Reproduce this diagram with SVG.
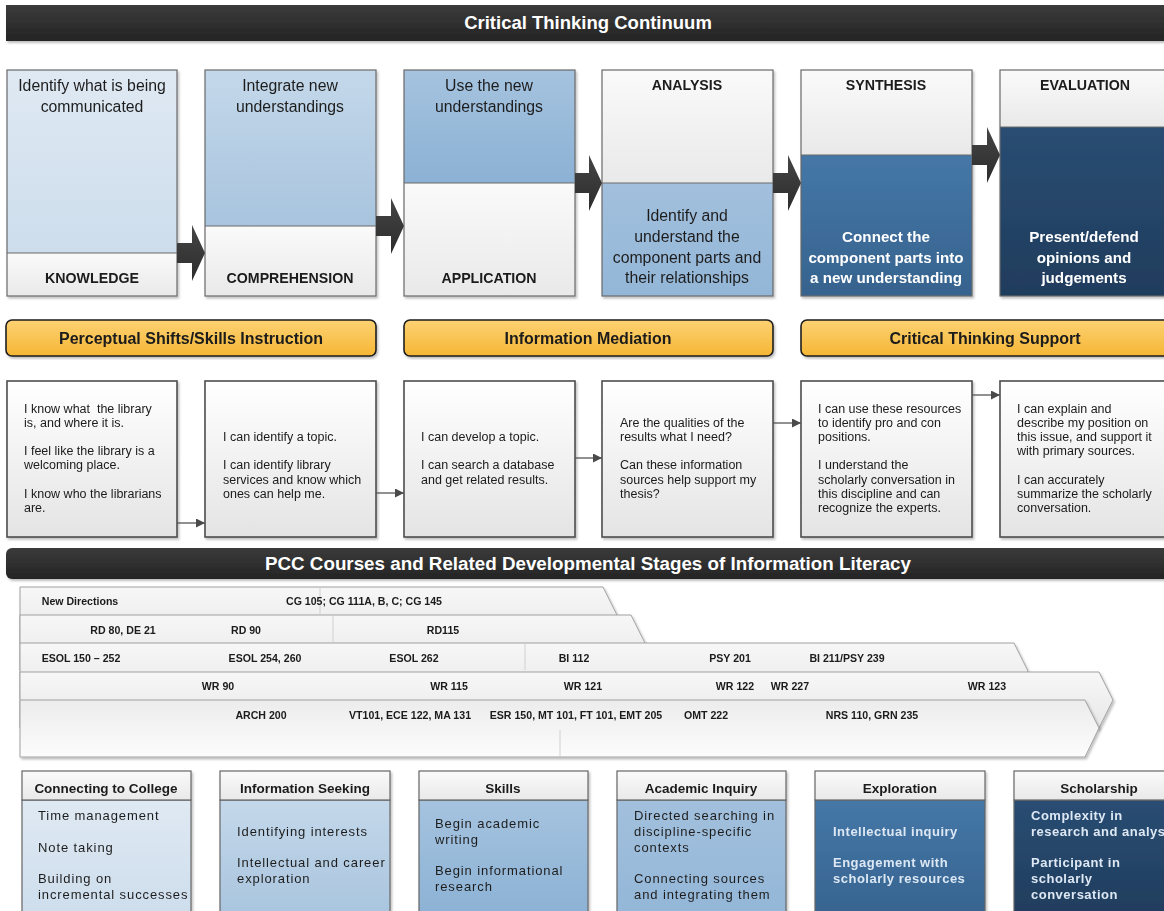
<svg xmlns="http://www.w3.org/2000/svg" width="1164" height="911" viewBox="0 0 1164 911">
  <defs>
    <linearGradient id="gTitle" x1="0" y1="0" x2="0" y2="1">
      <stop offset="0" stop-color="#3b3b3b"/>
      <stop offset="1" stop-color="#242424"/>
    </linearGradient>
    <linearGradient id="gGrey" x1="0" y1="0" x2="0" y2="1">
      <stop offset="0" stop-color="#fafafa"/>
      <stop offset="1" stop-color="#e9e9e9"/>
    </linearGradient>
    <linearGradient id="gB1" x1="0" y1="0" x2="0" y2="1">
      <stop offset="0" stop-color="#dfe9f3"/>
      <stop offset="1" stop-color="#cdddec"/>
    </linearGradient>
    <linearGradient id="gB2" x1="0" y1="0" x2="0" y2="1">
      <stop offset="0" stop-color="#c4d8ea"/>
      <stop offset="1" stop-color="#a8c4de"/>
    </linearGradient>
    <linearGradient id="gB3" x1="0" y1="0" x2="0" y2="1">
      <stop offset="0" stop-color="#a5c3df"/>
      <stop offset="1" stop-color="#8bb1d4"/>
    </linearGradient>
    <linearGradient id="gB4" x1="0" y1="0" x2="0" y2="1">
      <stop offset="0" stop-color="#a2c0dd"/>
      <stop offset="1" stop-color="#93b6d7"/>
    </linearGradient>
    <linearGradient id="gB5" x1="0" y1="0" x2="0" y2="1">
      <stop offset="0" stop-color="#4577a7"/>
      <stop offset="1" stop-color="#36638e"/>
    </linearGradient>
    <linearGradient id="gB6" x1="0" y1="0" x2="0" y2="1">
      <stop offset="0" stop-color="#2a4d73"/>
      <stop offset="1" stop-color="#1f3c5c"/>
    </linearGradient>
    <linearGradient id="gYellow" x1="0" y1="0" x2="0" y2="1">
      <stop offset="0" stop-color="#fdd273"/>
      <stop offset="1" stop-color="#f5b635"/>
    </linearGradient>
    <linearGradient id="gStmt" x1="0" y1="0" x2="0" y2="1">
      <stop offset="0" stop-color="#ffffff"/>
      <stop offset="1" stop-color="#e4e4e4"/>
    </linearGradient>
    <linearGradient id="gRow" x1="0" y1="0" x2="0" y2="1">
      <stop offset="0" stop-color="#f7f7f7"/>
      <stop offset="1" stop-color="#e8e8e8"/>
    </linearGradient>
    <linearGradient id="gRow5" x1="0" y1="0" x2="0" y2="1">
      <stop offset="0" stop-color="#ececec"/>
      <stop offset="1" stop-color="#fcfcfc"/>
    </linearGradient>
    <linearGradient id="gArrow" x1="0" y1="0" x2="0" y2="1">
      <stop offset="0" stop-color="#454545"/>
      <stop offset="1" stop-color="#2c2c2c"/>
    </linearGradient>
    <filter id="shadow" x="-5%" y="-5%" width="115%" height="115%">
      <feDropShadow dx="1.5" dy="2" stdDeviation="1.2" flood-color="#000" flood-opacity="0.25"/>
    </filter>
    <marker id="tip" viewBox="0 0 10 10" refX="10" refY="5" markerWidth="9" markerHeight="9" markerUnits="userSpaceOnUse" orient="auto">
      <path d="M0,0 L10,5 L0,10 z" fill="#4a4a4a"/>
    </marker>
    <style>
      text { font-family: "Liberation Sans", Arial, sans-serif; }
      .title { fill: #ffffff; font-weight: bold; font-size: 18.5px; text-anchor: middle; }
      .title2 { fill: #ffffff; font-weight: bold; font-size: 18.8px; text-anchor: middle; }
      .frame { fill: none; stroke: #6a6a6a; stroke-width: 1.2; }
      .split { stroke: #6a6a6a; stroke-width: 1.2; }
      .desc { font-size: 15.8px; fill: #1e1e1e; text-anchor: middle; }
      .descW { font-size: 15.2px; fill: #ffffff; font-weight: bold; text-anchor: middle; }
      .stage { font-size: 14.2px; font-weight: bold; fill: #1a1a1a; text-anchor: middle; }
      .band { fill: url(#gYellow); stroke: #1e1e1e; stroke-width: 1.6; }
      .bandTxt { font-size: 16px; font-weight: bold; fill: #1a1a1a; text-anchor: middle; }
      .stmt { fill: url(#gStmt); stroke: #4e4e4e; stroke-width: 1.6; }
      .stmtTxt { font-size: 12.5px; fill: #1a1a1a; }
      .link { fill: none; stroke: #555555; stroke-width: 1.3; marker-end: url(#tip); }
      .block { fill: url(#gArrow); }
      .row { stroke: #a0a0a0; stroke-width: 1; }
      .div { stroke: #d0d0d0; stroke-width: 1; }
      .course { font-size: 10.6px; font-weight: bold; fill: #1a1a1a; text-anchor: middle; }
      .head { fill: url(#gGrey); stroke: #666666; stroke-width: 1.2; }
      .headTxt { font-size: 13.5px; font-weight: bold; fill: #1a1a1a; text-anchor: middle; }
      .body { stroke: #666666; stroke-width: 1.2; }
      .bodyTxt { font-size: 13px; fill: #1e1e1e; letter-spacing: 0.9px; }
      .bodyTxtW { font-size: 13px; fill: #dde8f4; font-weight: bold; letter-spacing: 0.5px; }
    </style>
  </defs>

  <rect width="1164" height="911" fill="#ffffff"/>

  <!-- Heading bar -->
  <g id="heading">
    <rect x="6" y="5" width="1170" height="36" fill="url(#gTitle)" filter="url(#shadow)"/>
    <text class="title" x="588" y="29">Critical Thinking Continuum</text>
  </g>

  <!-- Continuum stages -->
  <g id="stage-knowledge" filter="url(#shadow)">
    <rect x="7" y="70" width="170" height="183" fill="url(#gB1)"/>
    <rect x="7" y="253" width="170" height="43" fill="url(#gGrey)"/>
    <line class="split" x1="7" y1="253" x2="177" y2="253"/>
    <rect class="frame" x="7" y="70" width="170" height="226"/>
    <text class="desc" x="92" y="91">Identify what is being</text>
    <text class="desc" x="92" y="112">communicated</text>
    <text class="stage" x="92" y="283">KNOWLEDGE</text>
  </g>
  <g id="stage-comprehension" filter="url(#shadow)">
    <rect x="205" y="70" width="171" height="156" fill="url(#gB2)"/>
    <rect x="205" y="226" width="171" height="70" fill="url(#gGrey)"/>
    <line class="split" x1="205" y1="226" x2="376" y2="226"/>
    <rect class="frame" x="205" y="70" width="171" height="226"/>
    <text class="desc" x="290" y="91">Integrate new</text>
    <text class="desc" x="290" y="112">understandings</text>
    <text class="stage" x="290" y="283">COMPREHENSION</text>
  </g>
  <g id="stage-application" filter="url(#shadow)">
    <rect x="404" y="70" width="171" height="113" fill="url(#gB3)"/>
    <rect x="404" y="183" width="171" height="113" fill="url(#gGrey)"/>
    <line class="split" x1="404" y1="183" x2="575" y2="183"/>
    <rect class="frame" x="404" y="70" width="171" height="226"/>
    <text class="desc" x="489" y="91">Use the new</text>
    <text class="desc" x="489" y="112">understandings</text>
    <text class="stage" x="489" y="283">APPLICATION</text>
  </g>
  <g id="stage-analysis" filter="url(#shadow)">
    <rect x="602" y="70" width="171" height="113" fill="url(#gGrey)"/>
    <rect x="602" y="183" width="171" height="113" fill="url(#gB4)"/>
    <line class="split" x1="602" y1="183" x2="773" y2="183"/>
    <rect class="frame" x="602" y="70" width="171" height="226"/>
    <text class="stage" x="687" y="90">ANALYSIS</text>
    <text class="desc" x="687" y="221">Identify and</text>
    <text class="desc" x="687" y="242">understand the</text>
    <text class="desc" x="687" y="263">component parts and</text>
    <text class="desc" x="687" y="283">their relationships</text>
  </g>
  <g id="stage-synthesis" filter="url(#shadow)">
    <rect x="801" y="70" width="171" height="85" fill="url(#gGrey)"/>
    <rect x="801" y="155" width="171" height="141" fill="url(#gB5)"/>
    <line class="split" x1="801" y1="155" x2="972" y2="155"/>
    <rect class="frame" x="801" y="70" width="171" height="226"/>
    <text class="stage" x="886" y="90">SYNTHESIS</text>
    <text class="descW" x="886" y="242">Connect the</text>
    <text class="descW" x="886" y="263">component parts into</text>
    <text class="descW" x="886" y="283">a new understanding</text>
  </g>
  <g id="stage-evaluation" filter="url(#shadow)">
    <rect x="1000" y="70" width="171" height="57" fill="url(#gGrey)"/>
    <rect x="1000" y="127" width="171" height="169" fill="url(#gB6)"/>
    <line class="split" x1="1000" y1="127" x2="1171" y2="127"/>
    <rect class="frame" x="1000" y="70" width="171" height="226"/>
    <text class="stage" x="1085" y="90">EVALUATION</text>
    <text class="descW" x="1084" y="242">Present/defend</text>
    <text class="descW" x="1084" y="263">opinions and</text>
    <text class="descW" x="1084" y="283">judgements</text>
  </g>

  <!-- Support bands -->
  <g id="band-perceptual" filter="url(#shadow)">
    <rect class="band" x="6" y="320" width="370" height="36" rx="6"/>
    <text class="bandTxt" x="191" y="344">Perceptual Shifts/Skills Instruction</text>
  </g>
  <g id="band-mediation" filter="url(#shadow)">
    <rect class="band" x="404" y="320" width="369" height="36" rx="6"/>
    <text class="bandTxt" x="588" y="344">Information Mediation</text>
  </g>
  <g id="band-support" filter="url(#shadow)">
    <rect class="band" x="801" y="320" width="375" height="36" rx="6"/>
    <text class="bandTxt" x="985" y="344">Critical Thinking Support</text>
  </g>

  <!-- Student statements -->
  <g id="stmt-1" filter="url(#shadow)">
    <rect class="stmt" x="7" y="381" width="170" height="156"/>
    <text class="stmtTxt" x="24" y="413" xml:space="preserve">I know what  the library</text>
    <text class="stmtTxt" x="24" y="427">is, and where it is.</text>
    <text class="stmtTxt" x="24" y="455">I feel like the library is a</text>
    <text class="stmtTxt" x="24" y="469">welcoming place.</text>
    <text class="stmtTxt" x="24" y="498">I know who the librarians</text>
    <text class="stmtTxt" x="24" y="512">are.</text>
  </g>
  <g id="stmt-2" filter="url(#shadow)">
    <rect class="stmt" x="205" y="381" width="171" height="156"/>
    <text class="stmtTxt" x="223" y="441">I can identify a topic.</text>
    <text class="stmtTxt" x="223" y="469">I can identify library</text>
    <text class="stmtTxt" x="223" y="484">services and know which</text>
    <text class="stmtTxt" x="223" y="498">ones can help me.</text>
  </g>
  <g id="stmt-3" filter="url(#shadow)">
    <rect class="stmt" x="404" y="381" width="171" height="156"/>
    <text class="stmtTxt" x="421" y="441">I can develop a topic.</text>
    <text class="stmtTxt" x="421" y="469">I can search a database</text>
    <text class="stmtTxt" x="421" y="484">and get related results.</text>
  </g>
  <g id="stmt-4" filter="url(#shadow)">
    <rect class="stmt" x="602" y="381" width="171" height="156"/>
    <text class="stmtTxt" x="620" y="427">Are the qualities of the</text>
    <text class="stmtTxt" x="620" y="441">results what I need?</text>
    <text class="stmtTxt" x="620" y="469">Can these information</text>
    <text class="stmtTxt" x="620" y="484">sources help support my</text>
    <text class="stmtTxt" x="620" y="498">thesis?</text>
  </g>
  <g id="stmt-5" filter="url(#shadow)">
    <rect class="stmt" x="801" y="381" width="171" height="156"/>
    <text class="stmtTxt" x="818" y="413">I can use these resources</text>
    <text class="stmtTxt" x="818" y="427">to identify pro and con</text>
    <text class="stmtTxt" x="818" y="441">positions.</text>
    <text class="stmtTxt" x="818" y="469">I understand the</text>
    <text class="stmtTxt" x="818" y="484">scholarly conversation in</text>
    <text class="stmtTxt" x="818" y="498">this discipline and can</text>
    <text class="stmtTxt" x="818" y="512">recognize the experts.</text>
  </g>
  <g id="stmt-6" filter="url(#shadow)">
    <rect class="stmt" x="1000" y="381" width="171" height="156"/>
    <text class="stmtTxt" x="1017" y="413">I can explain and</text>
    <text class="stmtTxt" x="1017" y="427">describe my position on</text>
    <text class="stmtTxt" x="1017" y="441">this issue, and support it</text>
    <text class="stmtTxt" x="1017" y="455">with primary sources.</text>
    <text class="stmtTxt" x="1017" y="484">I can accurately</text>
    <text class="stmtTxt" x="1017" y="498">summarize the scholarly</text>
    <text class="stmtTxt" x="1017" y="512">conversation.</text>
  </g>

  <!-- Connectors: block arrows between stages, thin arrows between statements -->
  <g id="connectors">
    <polygon class="block" points="177,243 192,243 192,225 205,253 192,281 192,263 177,263"/>
    <polygon class="block" points="376,216 391,216 391,198 404,226 391,254 391,236 376,236"/>
    <polygon class="block" points="575,173 589,173 589,155 602,183 589,211 589,193 575,193"/>
    <polygon class="block" points="773,173 788,173 788,155 801,183 788,211 788,193 773,193"/>
    <polygon class="block" points="972,145 987,145 987,127 1000,155 987,183 987,165 972,165"/>
    <line class="link" x1="177" y1="523" x2="205" y2="523"/>
    <line class="link" x1="376" y1="493" x2="404" y2="493"/>
    <line class="link" x1="575" y1="458" x2="602" y2="458"/>
    <line class="link" x1="773" y1="423" x2="801" y2="423"/>
    <line class="link" x1="972" y1="395" x2="1000" y2="395"/>
  </g>

  <!-- Course section heading -->
  <g id="courses-heading">
    <rect x="6" y="548" width="1170" height="31" rx="6" fill="url(#gTitle)" filter="url(#shadow)"/>
    <text class="title2" x="588" y="570">PCC Courses and Related Developmental Stages of Information Literacy</text>
  </g>

  <!-- Course bands (each drawn over the one above it) -->
  <g id="course-row-1" filter="url(#shadow)">
    <polygon class="row" fill="url(#gRow)" points="20,587 603,587 617,615 603,643 20,643"/>
    <line class="div" x1="320" y1="588" x2="320" y2="614"/>
    <text class="course" x="80" y="605">New Directions</text>
    <text class="course" x="364" y="605">CG 105; CG 111A, B, C; CG 145</text>
  </g>
  <g id="course-row-2" filter="url(#shadow)">
    <polygon class="row" fill="url(#gRow)" points="20,615 631,615 645,643 631,671 20,671"/>
    <line class="div" x1="333" y1="616" x2="333" y2="642"/>
    <text class="course" x="123" y="634">RD 80, DE 21</text>
    <text class="course" x="246" y="634">RD 90</text>
    <text class="course" x="443" y="634">RD115</text>
  </g>
  <g id="course-row-3" filter="url(#shadow)">
    <polygon class="row" fill="url(#gRow)" points="20,643 1014,643 1028,671 1014,699 20,699"/>
    <line class="div" x1="525" y1="644" x2="525" y2="670"/>
    <text class="course" x="81" y="662">ESOL 150 – 252</text>
    <text class="course" x="265" y="662">ESOL 254, 260</text>
    <text class="course" x="414" y="662">ESOL 262</text>
    <text class="course" x="574" y="662">BI 112</text>
    <text class="course" x="730" y="662">PSY 201</text>
    <text class="course" x="847" y="662">BI 211/PSY 239</text>
  </g>
  <g id="course-row-4" filter="url(#shadow)">
    <polygon class="row" fill="url(#gRow)" points="20,672 1099,672 1113,700 1099,728 20,728"/>
    <text class="course" x="218" y="690">WR 90</text>
    <text class="course" x="449" y="690">WR 115</text>
    <text class="course" x="583" y="690">WR 121</text>
    <text class="course" x="735" y="690">WR 122</text>
    <text class="course" x="790" y="690">WR 227</text>
    <text class="course" x="987" y="690">WR 123</text>
  </g>
  <g id="course-row-5" filter="url(#shadow)">
    <polygon class="row" fill="url(#gRow5)" points="20,700 1085,700 1099,728 1085,757 20,757"/>
    <line class="div" x1="560" y1="730" x2="560" y2="756"/>
    <text class="course" x="261" y="719">ARCH 200</text>
    <text class="course" x="410" y="719">VT101, ECE 122, MA 131</text>
    <text class="course" x="576" y="719">ESR 150, MT 101, FT 101, EMT 205</text>
    <text class="course" x="706" y="719">OMT 222</text>
    <text class="course" x="872" y="719">NRS 110, GRN 235</text>
  </g>

  <!-- Developmental stages -->
  <g id="dev-connecting" filter="url(#shadow)">
    <rect class="body" x="22" y="800" width="169" height="120" fill="url(#gB1)"/>
    <rect class="head" x="22" y="771" width="169" height="29"/>
    <text class="headTxt" x="106" y="793">Connecting to College</text>
    <text class="bodyTxt" x="38" y="820">Time management</text>
    <text class="bodyTxt" x="38" y="852">Note taking</text>
    <text class="bodyTxt" x="38" y="883">Building on</text>
    <text class="bodyTxt" x="38" y="899">incremental successes</text>
  </g>
  <g id="dev-seeking" filter="url(#shadow)">
    <rect class="body" x="220" y="800" width="170" height="120" fill="url(#gB2)"/>
    <rect class="head" x="220" y="771" width="170" height="29"/>
    <text class="headTxt" x="305" y="793">Information Seeking</text>
    <text class="bodyTxt" x="237" y="836">Identifying interests</text>
    <text class="bodyTxt" x="237" y="867">Intellectual and career</text>
    <text class="bodyTxt" x="237" y="883">exploration</text>
  </g>
  <g id="dev-skills" filter="url(#shadow)">
    <rect class="body" x="419" y="800" width="169" height="120" fill="url(#gB3)"/>
    <rect class="head" x="419" y="771" width="169" height="29"/>
    <text class="headTxt" x="503" y="793">Skills</text>
    <text class="bodyTxt" x="435" y="828">Begin academic</text>
    <text class="bodyTxt" x="435" y="844">writing</text>
    <text class="bodyTxt" x="435" y="875">Begin informational</text>
    <text class="bodyTxt" x="435" y="891">research</text>
  </g>
  <g id="dev-inquiry" filter="url(#shadow)">
    <rect class="body" x="617" y="800" width="169" height="120" fill="url(#gB4)"/>
    <rect class="head" x="617" y="771" width="169" height="29"/>
    <text class="headTxt" x="701" y="793">Academic Inquiry</text>
    <text class="bodyTxt" x="634" y="820">Directed searching in</text>
    <text class="bodyTxt" x="634" y="836">discipline-specific</text>
    <text class="bodyTxt" x="634" y="852">contexts</text>
    <text class="bodyTxt" x="634" y="883">Connecting sources</text>
    <text class="bodyTxt" x="634" y="899">and integrating them</text>
  </g>
  <g id="dev-exploration" filter="url(#shadow)">
    <rect class="body" x="815" y="800" width="170" height="120" fill="url(#gB5)"/>
    <rect class="head" x="815" y="771" width="170" height="29"/>
    <text class="headTxt" x="900" y="793">Exploration</text>
    <text class="bodyTxtW" x="833" y="836">Intellectual inquiry</text>
    <text class="bodyTxtW" x="833" y="867">Engagement with</text>
    <text class="bodyTxtW" x="833" y="883">scholarly resources</text>
  </g>
  <g id="dev-scholarship" filter="url(#shadow)">
    <rect class="body" x="1014" y="800" width="170" height="120" fill="url(#gB6)"/>
    <rect class="head" x="1014" y="771" width="170" height="29"/>
    <text class="headTxt" x="1099" y="793">Scholarship</text>
    <text class="bodyTxtW" x="1031" y="820">Complexity in</text>
    <text class="bodyTxtW" x="1031" y="836">research and analysis</text>
    <text class="bodyTxtW" x="1031" y="867">Participant in</text>
    <text class="bodyTxtW" x="1031" y="883">scholarly</text>
    <text class="bodyTxtW" x="1031" y="899">conversation</text>
  </g>
</svg>
